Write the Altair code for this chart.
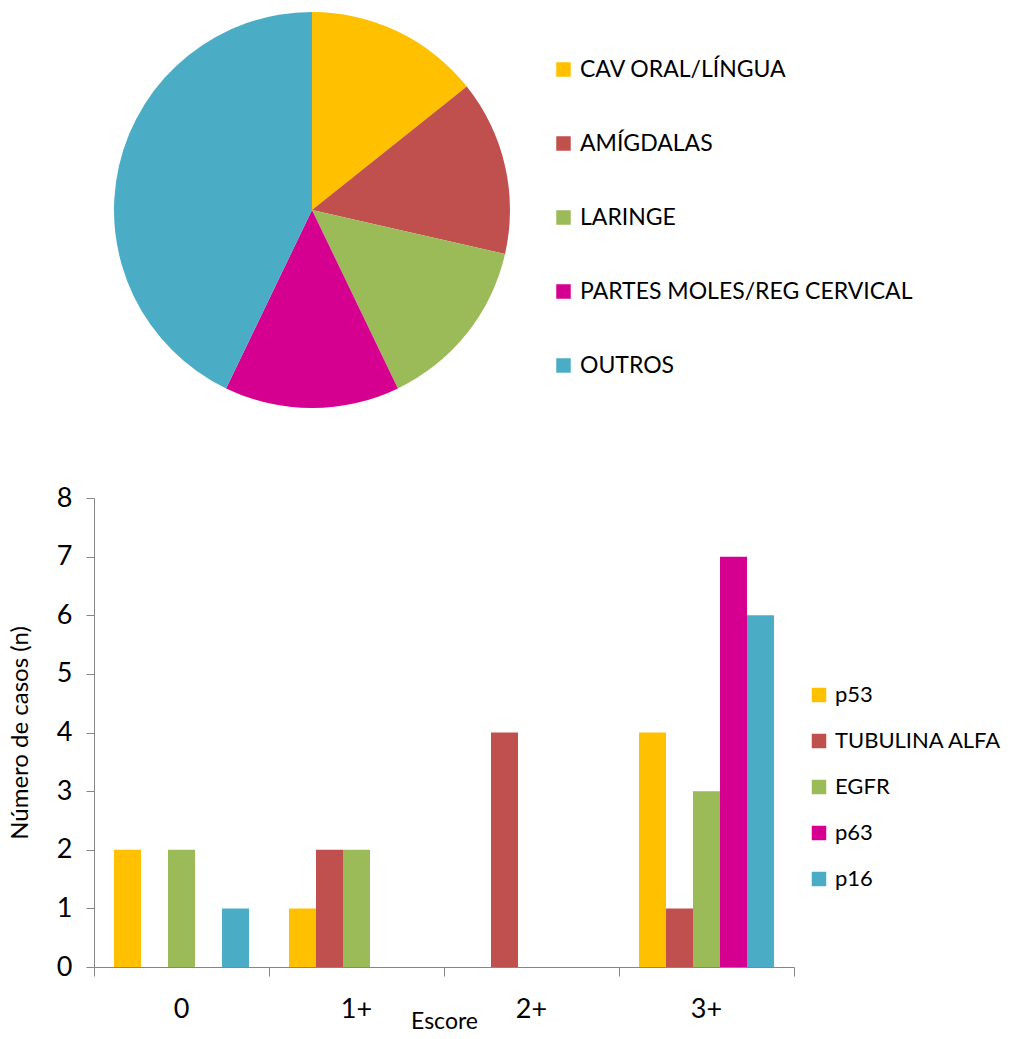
import altair as alt
import pandas as pd

FONT = "Lato"

# Site distribution (pie)
sites = ["CAV ORAL/LÍNGUA", "AMÍGDALAS", "LARINGE", "PARTES MOLES/REG CERVICAL", "OUTROS"]
site_counts = [1, 1, 1, 1, 3]
site_colors = ["#FFC000", "#C0504D", "#9BBB59", "#D5008F", "#4BACC6"]

# Immunostaining score per marker (bars)
scores = ["0", "1+", "2+", "3+"]
markers = ["p53", "TUBULINA ALFA", "EGFR", "p63", "p16"]
marker_colors = ["#FFC000", "#C0504D", "#9BBB59", "#D5008F", "#4BACC6"]
cases = {
    "p53":           [2, 1, 0, 4],
    "TUBULINA ALFA": [0, 2, 4, 1],
    "EGFR":          [2, 2, 0, 3],
    "p63":           [0, 0, 0, 7],
    "p16":           [1, 0, 0, 6],
}

pie_df = pd.DataFrame({"local": sites, "n": site_counts, "ordem": range(len(sites))})
bar_df = pd.DataFrame(
    [{"escore": s, "marcador": m, "casos": cases[m][i]}
     for m in markers for i, s in enumerate(scores)]
)

pie = (
    alt.Chart(pie_df)
    .mark_arc(outerRadius=198)
    .encode(
        theta=alt.Theta("n:Q", stack=True),
        order=alt.Order("ordem:Q"),
        color=alt.Color(
            "local:N",
            sort=sites,
            scale=alt.Scale(domain=sites, range=site_colors),
            legend=alt.Legend(
                title=None,
                orient="none",
                legendX=458,
                legendY=53,
                symbolType="square",
                symbolSize=210,
                symbolStrokeWidth=0,
                labelFontSize=23,
                labelFont=FONT,
                labelColor="#000000",
                labelLimit=400,
                rowPadding=50,
                labelOffset=5,
            ),
        ),
        x=alt.value(218),
        y=alt.value(205),
    )
    .properties(width=700, height=430)
)

bars = (
    alt.Chart(bar_df)
    .mark_bar()
    .encode(
        x=alt.X(
            "escore:N",
            sort=scores,
            scale=alt.Scale(paddingInner=0, paddingOuter=0),
            axis=alt.Axis(
                title="Escore",
                labelAngle=0,
                bandPosition=1,
                tickExtra=True,
                tickSize=9,
                labelPadding=20,
                labelFontSize=27,
                titleFontSize=23,
                titleFontWeight="normal",
                titlePadding=-12,
            ),
        ),
        xOffset=alt.XOffset(
            "marcador:N", sort=markers, scale=alt.Scale(paddingOuter=0.74, paddingInner=0)
        ),
        y=alt.Y(
            "casos:Q",
            scale=alt.Scale(domain=[0, 8]),
            axis=alt.Axis(
                title="Número de casos (n)",
                values=list(range(9)),
                format="d",
                tickSize=8,
                labelPadding=14,
                labelFontSize=27,
                titleFontSize=24,
                titleFontWeight="normal",
                titlePadding=24,
            ),
        ),
        color=alt.Color(
            "marcador:N",
            sort=markers,
            scale=alt.Scale(domain=markers, range=marker_colors),
            legend=alt.Legend(
                title=None,
                orient="none",
                legendX=714,
                legendY=186,
                symbolType="square",
                symbolSize=210,
                symbolStrokeWidth=0,
                labelFontSize=22,
                labelFont=FONT,
                labelColor="#000000",
                labelLimit=300,
                rowPadding=24,
                labelOffset=5,
            ),
        ),
    )
    .properties(width=700, height=469)
)

chart = (
    alt.vconcat(pie, bars, spacing=49)
    .resolve_scale(color="independent")
    .configure(font=FONT, padding={"top": 5, "left": 8, "right": 0, "bottom": 0})
    .configure_view(stroke=None)
    .configure_axis(
        grid=False,
        domainColor="#868686",
        tickColor="#868686",
        labelColor="#000000",
        titleColor="#000000",
        labelFont=FONT,
        titleFont=FONT,
    )
)

chart.save("out.html", embed_options={"renderer": "svg", "actions": False})
